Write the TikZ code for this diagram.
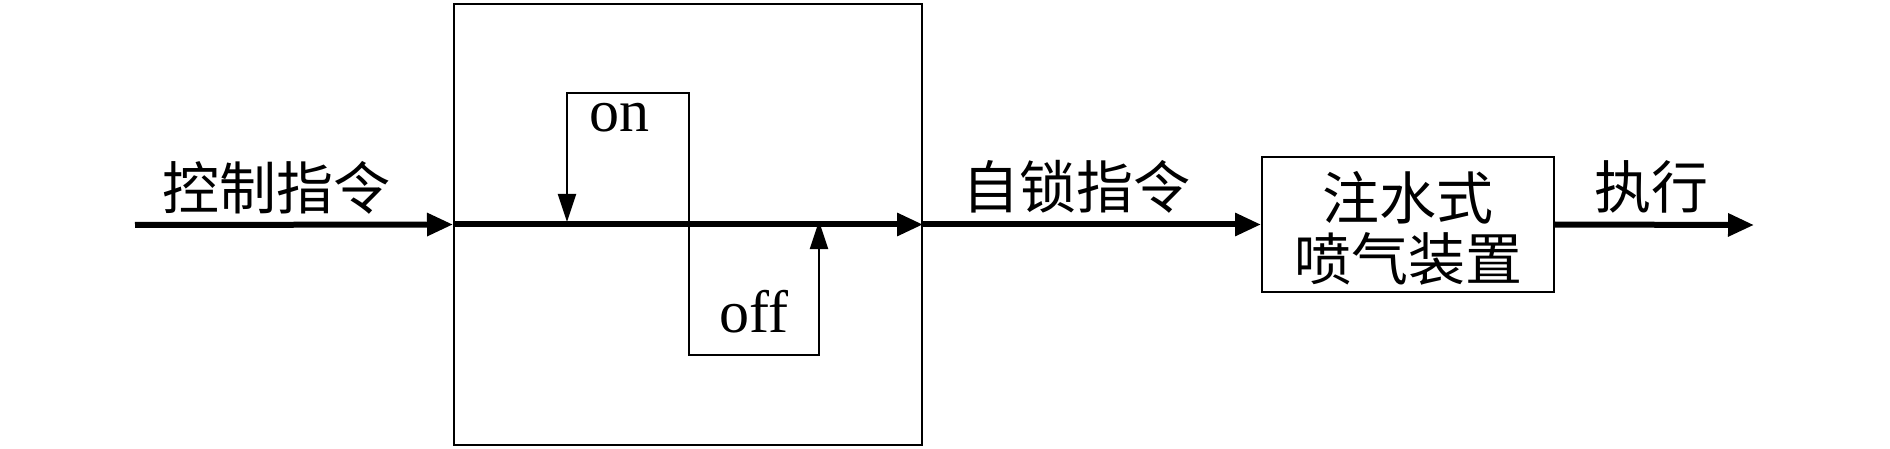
\documentclass[tikz,border=0pt]{standalone}
\usepackage{fontspec}
\setmainfont{Liberation Serif}
\newfontfamily\cjk{Noto Sans CJK SC}
\usetikzlibrary{arrows.meta}
\tikzset{
  frame/.style={draw=black,line width=2pt,inner sep=0pt},
  flow/.style={line width=6pt,-{Triangle[length=26pt,width=22pt]}},
  thin/.style={line width=2pt},
  sig/.style={line width=2pt,-{Triangle[length=28pt,width=18pt]}},
  cn/.style={inner sep=0pt,font=\cjk\fontsize{57}{61}\selectfont},
  en/.style={inner sep=0pt,font=\fontsize{60}{66}\selectfont},
}
\begin{document}
\begin{tikzpicture}[x=1pt,y=-1pt]
\useasboundingbox (0,0) rectangle (1890,449);
% boxes
\node[frame,minimum width=468pt,minimum height=441pt] (sw) at (688,224.5) {};
\node[frame,minimum width=292pt,minimum height=135pt] (jet) at (1408,224.5) {};
\node[cn,align=center] (jettext) at (1408,228) {注水式\\喷气装置};
% coordinates
\coordinate (in) at (135,225);
\coordinate (out) at (1754,225);
\coordinate (sp) at (689,225);
\coordinate (onA) at (689,93);
\coordinate (onB) at (567,93);
\coordinate (onC) at (567,222);
\coordinate (offA) at (689,355);
\coordinate (offB) at (819,355);
\coordinate (offC) at (819,221);
% main flow
\draw[flow] (in) -- (sw.west);
\draw[flow] (sw.west) -- (sw.east);
\draw[flow] (sw.east) -- (jet.west);
\draw[flow] (jet.east) -- (out);
% on / off loops
\draw[sig] (sp) -- (onA) -- (onB) -- (onC);
\draw[sig] (sp) -- (offA) -- (offB) -- (offC);
% labels
\node[cn] (l1) at (276,188) {控制指令};
\node[cn] (l2) at (1076,187) {自锁指令};
\node[cn] (l3) at (1651,187) {执行};
\node[en] (on) at (619,118) {on};
\node[en] (off) at (754,312) {off};
\end{tikzpicture}
\end{document}
